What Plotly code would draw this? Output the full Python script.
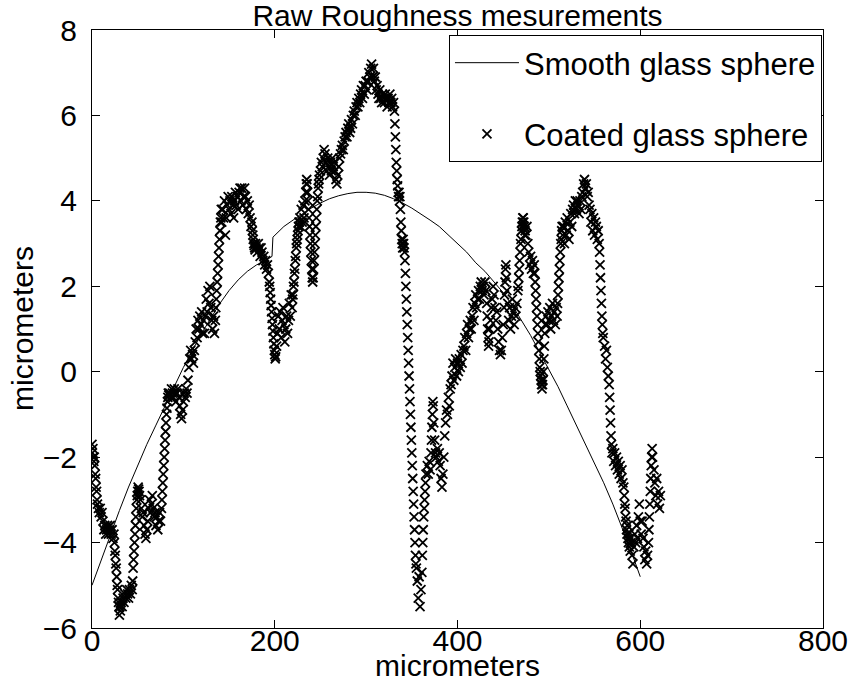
import numpy as np
import plotly.graph_objects as go

# Smooth glass sphere profile (micrometers)
smooth_x = [0, 10, 20, 30, 40, 50, 60, 70, 80, 90, 100, 110, 120, 130, 140, 150, 160, 170,
            180, 190, 197, 198, 205, 210, 220, 230, 240, 250, 260, 270, 280, 290, 300, 310,
            320, 330, 340, 350, 360, 370, 380, 390, 400, 410, 420, 430, 440, 450, 460, 470,
            480, 490, 500, 510, 520, 530, 540, 550, 560, 570, 580, 590, 600]
smooth_y = [-5.0, -4.4, -3.8, -3.25, -2.7, -2.2, -1.7, -1.25, -0.8, -0.35,
            0.1, 0.5, 0.9, 1.25, 1.6, 1.9, 2.15, 2.35, 2.5, 2.6,
            2.7, 3.15, 3.3, 3.4,
            3.55, 3.7, 3.83, 3.95, 4.05, 4.12, 4.17, 4.2, 4.2,
            4.18, 4.13, 4.05, 3.95, 3.83, 3.7, 3.55, 3.4, 3.2, 3.0,
            2.8, 2.55, 2.35, 2.1, 1.85, 1.55, 1.2, 0.85, 0.45, 0.05,
            -0.35, -0.8, -1.25, -1.7, -2.15, -2.6, -3.1, -3.65, -4.2, -4.8]

# Coated glass sphere samples, stored as runs: (first x, sample spacing, heights)
coated_runs_left = [
    (0, 0.5, [-1.7, -1.9, -1.8, -2.0, -2.1, -2.0, -2.2, -2.4, -2.5, -2.7, -2.8, -3.0, -3.1]),
    (7, 1, [-3.2, -3.3, -3.2, -3.4, -3.3, -3.5, -3.7, -3.6, -3.8, -3.7, -3.6, -3.8, -3.7, -3.6,
            -3.8, -3.7, -3.9, -3.8]),
    (24.5, 0.5, [-4.0, -4.2, -4.3, -4.5, -4.6, -4.8, -5.0, -5.1, -5.3, -5.4, -5.5, -5.7, -5.5]),
    (31, 1, [-5.6, -5.4, -5.5, -5.3, -5.4, -5.2, -5.3, -5.1, -5.2, -5.3, -5.1, -5.2, -5.0, -5.1]),
    (44.5, 0.5, [-4.9, -4.6, -4.4, -4.2, -4.0, -3.8, -3.6, -3.4, -3.2, -3.0, -2.9, -2.8, -2.7,
                 -2.75, -2.8, -2.9]),
    (53, 1, [-3.0, -3.2, -3.4, -3.3, -3.6, -3.8, -3.9, -3.7, -3.5, -3.2, -3.0, -3.3, -3.1, -2.9,
             -3.2, -3.4, -3.3, -3.6, -3.4, -3.7, -3.5, -3.3, -3.5, -3.2]),
    (76.5, 0.5, [-3.0, -2.8, -2.6, -2.4, -2.2, -2.0, -1.8, -1.6, -1.4, -1.2, -1.0, -0.85, -0.7,
                 -0.6, -0.5, -0.55]),
    (85, 1, [-0.5, -0.6, -0.4, -0.5, -0.6, -0.4, -0.5, -0.7, -0.5, -0.4, -0.6, -0.8, -1.0, -1.1,
             -0.9, -0.7, -0.5, -0.6, -0.4, -0.5, -0.2, 0.1]),
    (107, 1, [0.3, 0.5, 0.3, 0.4, 0.2, 0.5, 0.7, 1.0, 0.8, 1.2, 1.0, 1.3, 1.1, 1.4, 0.9, 1.2,
              0.9, 1.3, 1.7, 1.4, 1.9, 1.6, 2.0, 1.5, 1.2, 1.0, 1.3, 0.9, 1.2]),
    (135.5, 0.5, [1.5, 1.7, 1.9, 2.1, 2.3, 2.5, 2.7, 2.9, 3.1, 3.3, 3.5, 3.6, 3.8]),
    (142, 1, [3.5, 3.8, 3.6, 4.0, 3.2, 3.6, 3.9, 4.1, 3.8, 4.0, 3.7, 4.1, 3.9, 3.6, 4.0, 4.2,
              3.9, 4.1, 3.8, 4.2, 4.3, 4.0, 4.3, 3.9, 4.1, 4.3, 4.1, 3.8, 4.0, 3.7, 3.9, 3.6,
              3.4, 3.5]),
    (175.5, 0.5, [3.3, 3.2, 3.1, 3.0, 2.95, 2.9, 2.85, 3.0, 2.9]),
    (181, 1, [2.8, 3.0, 2.9, 2.7, 2.9, 2.8, 2.6, 2.7, 2.5, 2.6, 2.4, 2.5, 2.3, 2.1]),
    (194.5, 0.5, [2.0, 1.85, 1.7, 1.55, 1.4, 1.25, 1.1, 0.95, 0.8, 0.65, 0.5, 0.4, 0.3, 0.35]),
]

coated_runs_middle = [
    (202, 1, [0.6, 0.9, 1.3, 1.0, 1.4, 0.8, 1.2, 1.5, 1.1, 0.7, 1.0, 1.3, 0.9, 1.2, 1.6, 1.3,
              1.8, 1.5]),
    (219.5, 0.5, [1.7, 1.8, 2.0, 2.1, 2.3, 2.4, 2.6, 2.7, 2.9, 3.0, 3.1, 3.2, 3.3, 3.4, 3.5,
                  3.5, 3.6]),
    (228, 1, [3.4, 3.8, 3.5, 3.9, 3.6, 4.0, 4.2]),
    (234.5, 0.5, [4.4, 4.5, 4.4, 4.2]),
    (236.5, 0.5, [4.0, 3.8, 3.6, 3.4, 3.2, 3.0, 2.8, 2.6, 2.4, 2.2, 2.1, 2.2]),
    (242.5, 0.5, [2.4, 2.6, 2.8, 3.0, 3.2, 3.4, 3.6, 3.8, 4.0, 4.1, 4.3, 4.4, 4.5, 4.6]),
    (250, 1, [4.7, 4.9, 4.8, 5.0, 5.2, 5.1, 4.9, 4.7, 5.0, 4.8, 4.6, 4.9, 4.7, 5.0, 4.8, 4.9,
              4.7, 4.5, 4.4, 4.6, 4.8, 5.0, 5.1]),
    (273, 1, [5.2, 5.3, 5.2, 5.4, 5.5, 5.6, 5.5, 5.7, 5.8, 5.6, 5.7, 5.9, 5.8, 6.0, 6.1, 6.0,
              6.2, 6.3]),
    (291, 1, [6.2, 6.4, 6.3, 6.5, 6.6, 6.4, 6.7, 6.5, 6.7, 6.8, 6.6]),
    (302, 1, [6.8, 7.0, 6.9, 7.1, 7.2, 6.9, 7.1, 6.8, 6.9, 6.6, 6.7]),
    (313, 1, [6.5, 6.4, 6.6, 6.4, 6.3, 6.5, 6.4, 6.3, 6.5, 6.4, 6.2, 6.4, 6.3, 6.5, 6.3, 6.4,
              6.2, 6.3, 6.1]),
    (331.5, 0.5, [5.8, 5.5, 5.2, 4.9, 4.7, 4.5, 4.35, 4.2, 4.1, 4.2, 4.0, 4.1, 3.8, 3.5, 3.3,
                  3.1, 3.0, 2.9, 3.1, 3.0, 2.9, 2.8]),
    (342.5, 0.5, [2.6, 2.3, 2.0, 1.7, 1.4, 1.1, 0.8, 0.5, 0.2, -0.1, -0.4, -0.7, -1.0, -1.3,
                  -1.6, -1.9, -2.2, -2.5, -2.8, -3.1, -3.4, -3.7, -4.0, -4.3, -4.5]),
    (355, 1, [-4.6, -4.9, -5.3, -4.8, -5.5, -5.1, -4.7]),
    (361.5, 0.5, [-4.3, -4.0, -3.7, -3.4, -3.2, -3.0, -2.8, -2.6, -2.4]),
    (367, 1, [-2.2, -2.4, -2.1, -2.3, -1.9]),
    (371.5, 0.5, [-1.6, -1.3, -1.0, -0.7, -0.8]),
    (374, 1, [-1.2, -1.6, -1.9, -2.0, -1.8, -2.1, -1.9, -2.2, -2.5, -2.7, -2.4, -2.0, -1.5]),
    (387, 1, [-1.2, -0.9, -1.0, -0.6, -0.8, -0.4, -0.3]),
    (394, 1, [-0.1, 0.2, -0.2, 0.1, 0.3, -0.1, 0.2, 0.0, 0.3, 0.1, 0.4, 0.2, 0.5]),
    (407, 1, [0.6, 0.8, 0.5, 0.9, 1.1, 0.8, 1.0, 1.2, 1.0]),
    (416, 1, [1.3, 1.5, 1.2, 1.6, 1.8, 1.5, 1.7, 1.9, 1.7, 2.0]),
]

coated_runs_right = [
    (426, 1, [2.1, 1.9, 2.0, 1.8, 2.1, 1.9, 1.6]),
    (432.5, 0.5, [1.3, 1.0, 0.8, 0.6, 0.7, 1.0]),
    (436, 1, [1.2, 1.5, 1.7, 2.0, 1.8, 1.5, 1.2, 1.4]),
    (444, 1, [1.0, 0.7, 0.5, 0.4, 0.5, 0.8, 1.1, 1.5]),
    (451.5, 0.5, [1.8, 2.1, 2.4, 2.5, 2.2, 1.9]),
    (455, 1, [1.6, 1.2, 1.5, 1.0, 1.3, 1.7, 1.4, 1.1, 1.5, 1.3, 1.6, 1.9]),
    (466.5, 0.5, [2.0, 2.2, 2.4, 2.6, 2.8, 3.0, 3.1, 3.3, 3.4, 3.5, 3.6, 3.6, 3.5, 3.4, 3.2,
                  3.3]),
    (475, 1, [3.2, 3.4, 3.0, 2.8, 2.5, 2.7, 2.4, 2.6, 2.3, 2.5]),
    (484.5, 0.5, [2.3, 2.1, 1.9, 1.7, 1.5, 1.3, 1.1, 0.9, 0.7, 0.5, 0.3, 0.1, 0.0, -0.1, -0.2,
                  -0.3, -0.4, -0.3, -0.2, 0.0, 0.3, 0.6, 0.9, 1.1]),
    (497, 1, [1.3, 1.1, 1.4, 1.2, 1.5, 1.0, 1.3, 1.6, 1.2, 1.4, 1.1, 1.5, 1.3]),
    (509.5, 0.5, [1.6, 1.8, 2.0, 2.2, 2.4, 2.6, 2.8, 3.0, 3.1, 3.3, 3.4, 3.2]),
    (516, 1, [3.4, 3.0, 3.5, 3.2, 3.6, 3.3, 3.1, 3.5, 3.7, 3.4, 3.8]),
    (527, 1, [3.9, 3.7, 4.0, 3.8, 4.0, 3.9, 3.7, 4.0, 3.8, 4.1]),
    (537, 1, [4.2, 4.4, 4.5, 4.3, 4.4, 4.1, 4.2, 3.9, 3.8]),
    (546, 1, [3.5, 3.7, 3.3, 3.6, 3.2, 3.5, 3.4, 3.1, 3.3, 3.0]),
    (555.5, 0.5, [2.8, 2.5, 2.2, 1.9, 1.6, 1.3, 1.1, 0.9, 0.8]),
    (561, 1, [0.6, 0.3, 0.5, 0.1, -0.1, -0.3]),
    (566.5, 0.5, [-0.6, -0.9, -1.2, -1.5, -1.7, -1.9]),
    (570, 1, [-1.8, -2.1, -1.9, -2.2, -2.0, -2.3, -2.1, -2.4, -2.2, -2.5, -2.3, -2.6, -2.7]),
    (582.5, 0.5, [-2.9, -3.1, -3.2, -3.4, -3.5, -3.7, -3.8, -3.6, -3.9, -4.0, -3.8, -4.1,
                  -3.9, -4.2]),
    (590, 1, [-4.0, -4.3, -4.5, -4.1, -3.8, -4.0, -3.6, -3.9, -3.4, -3.1, -3.5, -3.8, -3.5,
              -3.9, -4.1, -4.4, -4.2, -4.5, -4.3, -4.0]),
    (609.5, 0.5, [-3.7, -3.4, -3.1, -2.8, -2.5, -2.2, -2.0, -1.8, -2.0]),
    (615, 1, [-2.3, -2.6, -2.9, -2.5, -3.1, -2.8, -3.2, -2.9]),
]

x_ticks = [0, 200, 400, 600, 800]
y_ticks = [-6, -4, -2, 0, 2, 4, 6, 8]

coated_x, coated_y = [], []
for x0, dx, ys in coated_runs_left + coated_runs_middle + coated_runs_right:
    coated_x.extend(x0 + dx * np.arange(len(ys)))
    coated_y.extend(ys)

FONT = "Liberation Sans, Arial, Helvetica, sans-serif"
FS = 30

fig = go.Figure()
fig.add_trace(go.Scatter(
    x=smooth_x, y=smooth_y, mode="lines", name="Smooth glass sphere",
    line=dict(color="black", width=1), legendgroup="a"))
fig.add_trace(go.Scatter(
    x=coated_x, y=coated_y, mode="markers", name="Coated glass sphere",
    marker=dict(symbol="x-thin", size=9, color="black",
                line=dict(color="black", width=1.8)),
    legendgroup="b"))

axis_common = dict(
    showgrid=False, zeroline=False, showline=True, linecolor="black", linewidth=1,
    mirror="ticks", ticks="inside", ticklen=8, tickcolor="black", tickwidth=1,
    tickfont=dict(family=FONT, size=FS, color="black"),
)
fig.update_xaxes(range=[0, 800], tickvals=x_ticks, ticklabelstandoff=-14, **axis_common)
fig.update_yaxes(range=[-6, 8], tickvals=y_ticks, ticklabelstandoff=8, **axis_common)

fig.update_layout(
    width=851, height=681,
    margin=dict(l=92, r=28, t=30, b=53, autoexpand=False),
    paper_bgcolor="white", plot_bgcolor="white",
    font=dict(family=FONT, size=FS, color="black"),
    title=dict(text="Raw Roughness mesurements", x=0.5, xref="paper",
               y=1 - 15 / 681, yref="container", yanchor="middle",
               font=dict(family=FONT, size=FS, color="black")),
    showlegend=True,
    legend=dict(x=0.9986, y=0.9916, xanchor="right", yanchor="top",
                bgcolor="white", bordercolor="black", borderwidth=1,
                font=dict(family=FONT, size=31, color="black"),
                itemwidth=64, tracegroupgap=28, traceorder="grouped"),
    annotations=[
        dict(text="micrometers", x=0.5, xref="paper", y=-(665 - 628) / 598, yref="paper",
             xanchor="center", yanchor="middle", showarrow=False,
             font=dict(family=FONT, size=FS, color="black")),
        dict(text="micrometers", x=-(92 - 22) / 731, xref="paper", y=0.5, yref="paper",
             xanchor="center", yanchor="middle", textangle=-90, showarrow=False,
             font=dict(family=FONT, size=FS, color="black")),
    ],
)

fig.write_html("out.html")
